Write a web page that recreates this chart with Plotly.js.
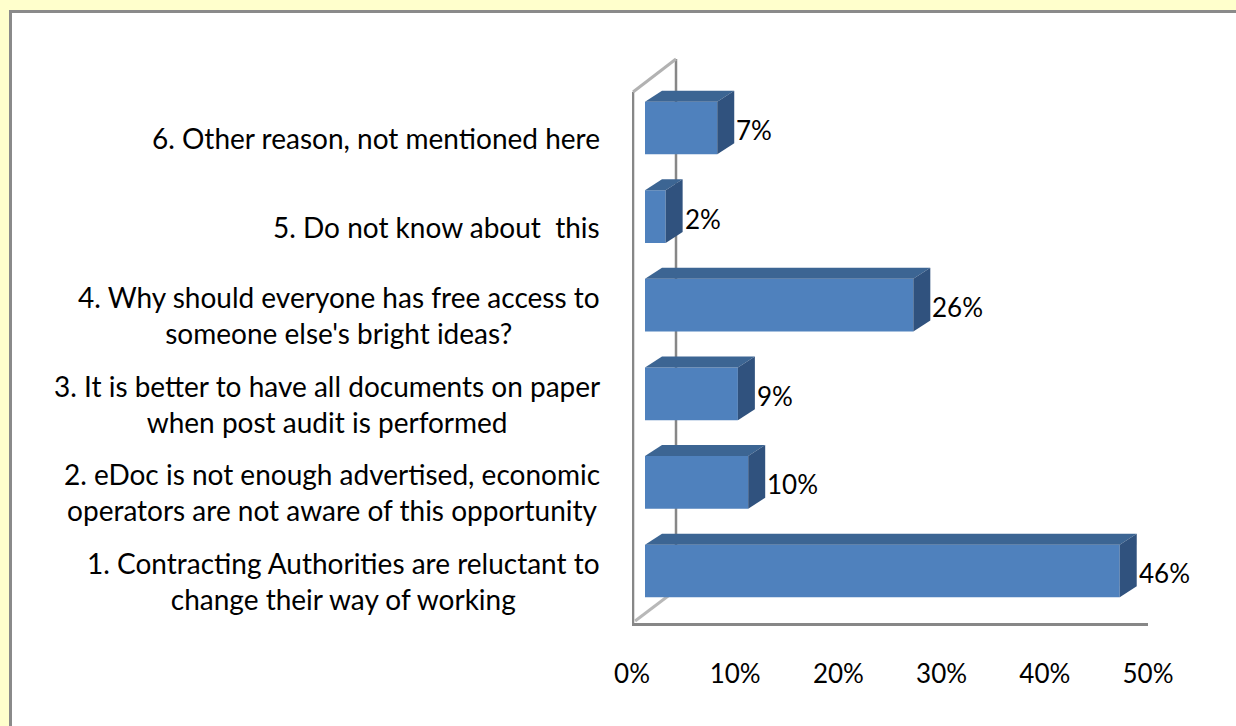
<!DOCTYPE html>
<html>
<head>
<meta charset="utf-8">
<script src="https://cdn.plot.ly/plotly-3.0.1.min.js"></script>
<style>
  html, body { margin: 0; padding: 0; background: #FFFFCC; width: 1236px; height: 726px; overflow: hidden; }
  #frame { position: absolute; left: 9px; top: 10px; width: 1300px; height: 800px; background: #ffffff;
           border-left: 3px solid #8a8a8a; border-top: 3px solid #8a8a8a; }
  #chart { position: absolute; left: 0; top: 0; width: 1236px; height: 726px; }
</style>
</head>
<body>
<div id="frame"></div>
<div id="chart"></div>
<script>
// ---- data ----
const categories = [
  "1. Contracting Authorities are reluctant to<br>change their way of working",
  "2. eDoc is not enough advertised, economic<br>operators are not aware of this opportunity",
  "3. It is better to have all documents on paper<br>when post audit is performed",
  "4. Why should everyone has free access to<br>someone else's bright ideas?",
  "5. Do not know about  this",
  "6. Other reason, not mentioned here"
];
const values = [0.46, 0.10, 0.09, 0.26, 0.02, 0.07];
const tickValues = [0, 0.1, 0.2, 0.3, 0.4, 0.5];
const tickLabels = ["0%", "10%", "20%", "30%", "40%", "50%"];

// ---- styling / geometry ----
const FONT = "Lato, 'Open Sans', sans-serif";
const FS = 26;
const FS_CAT = 28;
const plotL = 632, plotR = 1148, plotT = 59, plotB = 623;
const W = 1236, H = 726;
const pxPerX = (plotR - plotL) / 0.5;       // px per unit value
const yMin = -0.587, yMax = 5.779;
const pxPerY = (plotB - plotT) / (yMax - yMin);
const barShift = 13 / pxPerX;               // bars sit a bit behind the front plane
const depthX = 17 / pxPerX, depthY = 11 / pxPerY;
const bargap = 0.405;
const half = (1 - bargap) / 2;

const pos = categories.map((_, i) => i);

const frontColor = "#4F81BD", topColor = "#3C6593", sideColor = "#30527E";

const trace = {
  type: "bar", orientation: "h",
  x: values, y: pos,
  xaxis: "x2", yaxis: "y",
  marker: { color: frontColor, line: { width: 0 } },
  hoverinfo: "skip"
};

const shapes = [];
// wall / frame lines (drawn below bars)
const backX = (676 - plotL) / pxPerX;
const pY = py => (plotB - py) / (plotB - plotT);
shapes.push({ type: "line", layer: "below", xref: "x", yref: "paper", x0: backX, x1: backX, y0: pY(59), y1: pY(590), line: { color: "#878787", width: 2.5 } });
shapes.push({ type: "line", layer: "below", xref: "x", yref: "paper", x0: 0.001, x1: 0.001, y0: pY(623), y1: pY(92), line: { color: "#878787", width: 2.5 } });
shapes.push({ type: "line", layer: "below", xref: "x", yref: "paper", x0: 0.001, x1: backX, y0: pY(92), y1: pY(59), line: { color: "#b2b2b2", width: 3 } });
shapes.push({ type: "line", layer: "below", xref: "x", yref: "paper", x0: 0.003, x1: backX, y0: pY(621), y1: pY(590), line: { color: "#b8b8b8", width: 3 } });

// 3D faces of each bar, derived from the data
values.forEach((v, i) => {
  const yt = i + half, yb = i - half;
  shapes.push({
    type: "path", xref: "x2", yref: "y", line: { width: 0 }, fillcolor: topColor,
    path: `M0,${yt} L${v},${yt} L${v + depthX},${yt + depthY} L${depthX},${yt + depthY} Z`
  });
  shapes.push({
    type: "path", xref: "x2", yref: "y", line: { width: 0 }, fillcolor: sideColor,
    path: `M${v},${yt} L${v},${yb} L${v + depthX},${yb + depthY} L${v + depthX},${yt + depthY} Z`
  });
});

const annotations = [];
categories.forEach((c, i) => {
  annotations.push({
    xref: "paper", yref: "y", x: (602 - plotL) / (plotR - plotL), y: i, yshift: -10,
    xanchor: "right", yanchor: "middle", align: "center", showarrow: false,
    text: c, font: { family: FONT, size: FS_CAT, color: "#000000" }
  });
});
values.forEach((v, i) => {
  annotations.push({
    xref: "x2", yref: "y", x: v + depthX, y: i, yshift: -2, xshift: 0,
    xanchor: "left", yanchor: "middle", showarrow: false,
    text: Math.round(v * 100) + "%", font: { family: FONT, size: FS, color: "#000000" }
  });
});

const layout = {
  width: W, height: H,
  margin: { l: plotL, r: W - plotR, t: plotT, b: H - plotB, pad: 0 },
  paper_bgcolor: "rgba(0,0,0,0)", plot_bgcolor: "rgba(0,0,0,0)",
  showlegend: false, bargap: bargap,
  font: { family: FONT, size: FS, color: "#000000" },
  xaxis: {
    range: [0, 0.5], tickvals: tickValues, ticktext: tickLabels,
    showgrid: false, zeroline: false, showline: true, linecolor: "#878787", linewidth: 2.5,
    ticks: "", ticklabelstandoff: 26, tickfont: { family: FONT, size: FS, color: "#000000" },
    fixedrange: true
  },
  xaxis2: {
    overlaying: "x", anchor: "y", range: [-barShift, 0.5 - barShift], visible: false, fixedrange: true
  },
  yaxis: {
    range: [yMin, yMax], visible: false, fixedrange: true
  },
  shapes: shapes,
  annotations: annotations
};

Plotly.newPlot("chart", [trace], layout, { displayModeBar: false, staticPlot: true });
</script>
</body>
</html>
